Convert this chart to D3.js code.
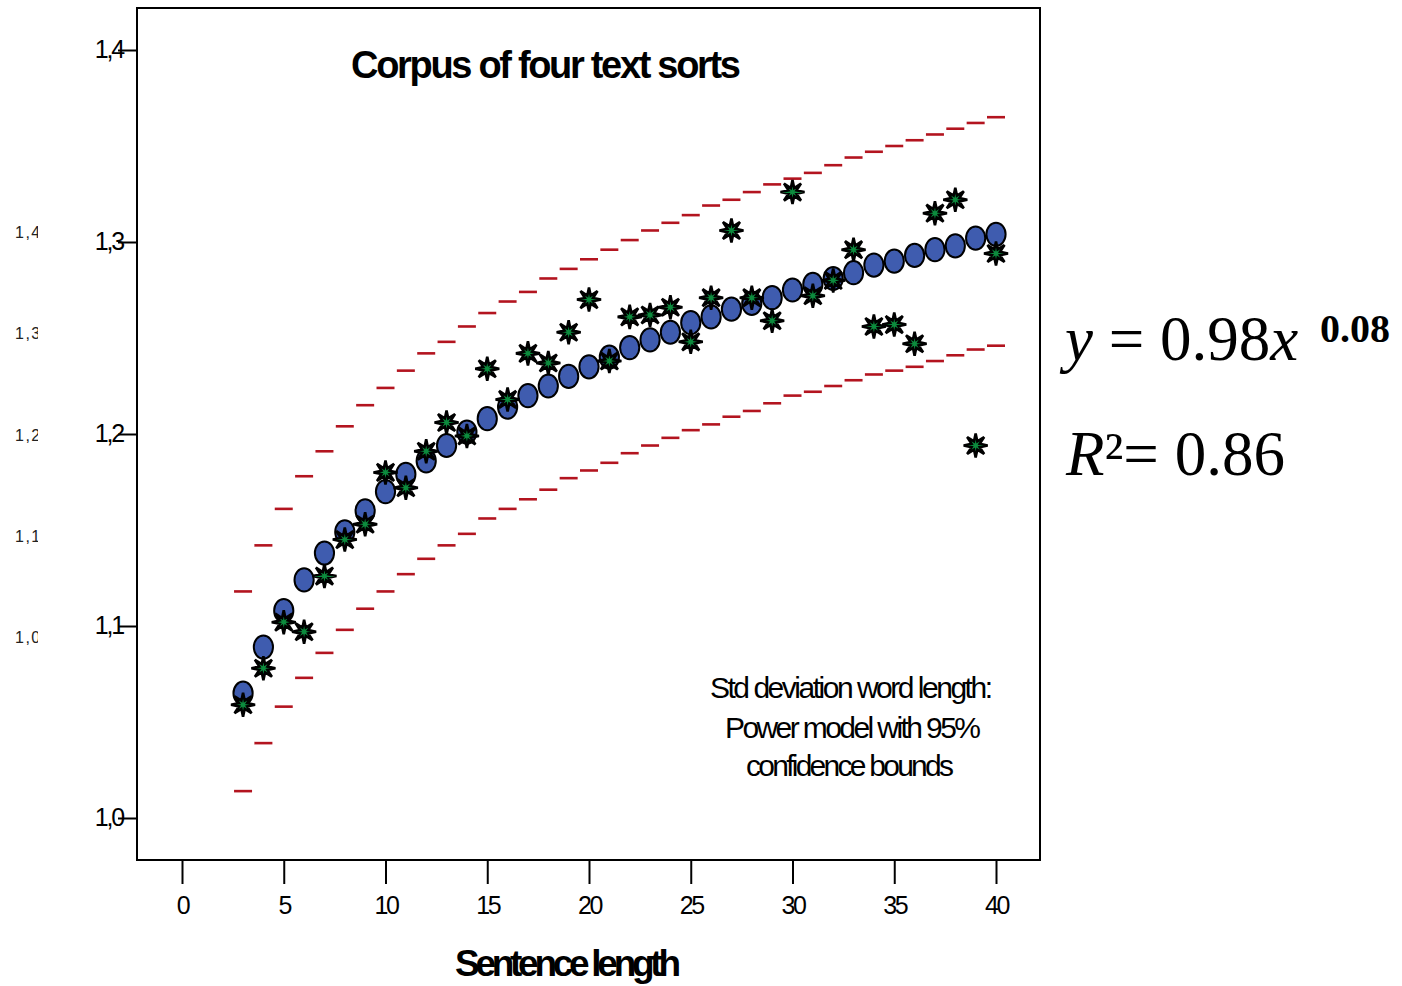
<!DOCTYPE html>
<html>
<head>
<meta charset="utf-8">
<script src="https://cdn.jsdelivr.net/npm/d3@7"></script>
<style>
  html, body { margin: 0; padding: 0; background: #fff; }
  svg { display: block; }
</style>
</head>
<body>
<svg id="chart" width="1402" height="986"></svg>
<script>
// Sentence length (words) on the x axis
const sentenceLength = [3, 4, 5, 6, 7, 8, 9, 10, 11, 12, 13, 14, 15, 16, 17, 18, 19, 20, 21,
  22, 23, 24, 25, 26, 27, 28, 29, 30, 31, 32, 33, 34, 35, 36, 37, 38, 39, 40];

// Observed std deviation of word length
const observed = [1.059, 1.078, 1.102, 1.097, 1.126, 1.145, 1.153, 1.180, 1.172, 1.191,
  1.206, 1.199, 1.234, 1.218, 1.242, 1.237, 1.253, 1.270, 1.238, 1.261,
  1.262, 1.266, 1.248, 1.271, 1.306, 1.271, 1.259, 1.326, 1.272, 1.280,
  1.296, 1.256, 1.257, 1.247, 1.315, 1.322, 1.194, 1.294];

// Power model fit
const fitted = [1.065, 1.089, 1.108, 1.124, 1.138, 1.149, 1.160, 1.170, 1.179, 1.186,
  1.194, 1.201, 1.208, 1.214, 1.220, 1.225, 1.230, 1.235, 1.240, 1.245,
  1.249, 1.253, 1.258, 1.261, 1.265, 1.268, 1.271, 1.275, 1.278, 1.281,
  1.284, 1.288, 1.290, 1.293, 1.296, 1.298, 1.302, 1.304];

// 95% confidence bounds
const upperBound = [1.118, 1.142, 1.161, 1.178, 1.191, 1.204, 1.215, 1.224, 1.233, 1.242,
  1.248, 1.256, 1.263, 1.269, 1.274, 1.281, 1.286, 1.291, 1.296, 1.301,
  1.306, 1.310, 1.314, 1.319, 1.322, 1.326, 1.330, 1.333, 1.336, 1.340,
  1.344, 1.347, 1.350, 1.353, 1.356, 1.359, 1.362, 1.365];
const lowerBound = [1.014, 1.039, 1.058, 1.073, 1.086, 1.098, 1.109, 1.118, 1.127, 1.135,
  1.142, 1.148, 1.156, 1.161, 1.166, 1.171, 1.177, 1.181, 1.185, 1.190,
  1.194, 1.198, 1.202, 1.205, 1.209, 1.212, 1.216, 1.220, 1.222, 1.225,
  1.228, 1.231, 1.233, 1.235, 1.238, 1.241, 1.244, 1.246];

// Axis ticks
const xTicks = [0, 5, 10, 15, 20, 25, 30, 35, 40];
const yTicks = [1.0, 1.1, 1.2, 1.3, 1.4];
// Faint left-hand scale labels
const ghostLabels = ["1,4", "1,3", "1,2", "1,1", "1,0"];

const svg = d3.select("#chart");
const frame = { left: 137, top: 8, right: 1040, bottom: 860 };

const x = d3.scaleLinear().domain([0, 40]).range([182, 996]);
const y = d3.scaleLinear().domain([1.0, 1.4]).range([818, 50]);
const commaFmt = v => d3.format(".1f")(v).replace(".", ",");

const sans = "'Liberation Sans', Arial, sans-serif";
const serif = "'Liberation Serif', 'Times New Roman', serif";

// Faint scale at the far left, clipped at its right edge
svg.append("clipPath").attr("id", "ghostClip")
  .append("rect").attr("x", 0).attr("y", 0).attr("width", 38).attr("height", 986);
const ghostY = d3.scalePoint().domain(ghostLabels).range([238, 643]);
svg.append("g").attr("clip-path", "url(#ghostClip)")
  .selectAll("text").data(ghostLabels).join("text")
  .attr("x", 15).attr("y", d => ghostY(d))
  .attr("font-family", sans).attr("font-size", 16)
  .attr("letter-spacing", 1.5)
  .attr("fill", "#222")
  .text(d => d);

// Y axis
const yAxis = svg.append("g")
  .attr("transform", `translate(${frame.left},0)`)
  .call(d3.axisLeft(y).tickValues(yTicks).tickFormat(commaFmt).tickSize(19).tickPadding(-5));
yAxis.select(".domain").remove();
yAxis.selectAll(".tick line").attr("stroke", "#000").attr("stroke-width", 2);
yAxis.selectAll(".tick text")
  .attr("font-family", sans).attr("font-size", 25).attr("letter-spacing", -2.2)
  .attr("fill", "#000").attr("dy", "0.3em");

// X axis
const xAxis = svg.append("g")
  .attr("transform", `translate(0,${frame.bottom})`)
  .call(d3.axisBottom(x).tickValues(xTicks).tickFormat(d3.format("d")).tickSize(24).tickPadding(12));
xAxis.select(".domain").remove();
xAxis.selectAll(".tick line").attr("stroke", "#000").attr("stroke-width", 2);
xAxis.selectAll(".tick text")
  .attr("font-family", sans).attr("font-size", 25).attr("letter-spacing", -2.5)
  .attr("fill", "#000");

// Plot frame
svg.append("rect")
  .attr("x", frame.left).attr("y", frame.top)
  .attr("width", frame.right - frame.left).attr("height", frame.bottom - frame.top)
  .attr("fill", "none").attr("stroke", "#000").attr("stroke-width", 2);

const plot = svg.append("g");

// Confidence bounds as short dashes
const boundColor = "#b3141f";
[upperBound, lowerBound].forEach(series => {
  plot.append("g").selectAll("line")
    .data(sentenceLength.map((s, i) => [s, series[i]]))
    .join("line")
    .attr("x1", d => x(d[0]) - 9).attr("x2", d => x(d[0]) + 9)
    .attr("y1", d => y(d[1])).attr("y2", d => y(d[1]))
    .attr("stroke", boundColor).attr("stroke-width", 2.6);
});

// Fitted values as blue ellipses
plot.append("g").selectAll("ellipse")
  .data(sentenceLength.map((s, i) => [s, fitted[i]]))
  .join("ellipse")
  .attr("cx", d => x(d[0])).attr("cy", d => y(d[1]))
  .attr("rx", 9.6).attr("ry", 11.6)
  .attr("fill", "#3f5caf").attr("stroke", "#000").attr("stroke-width", 2);

// Observed values as green starbursts
function starPath(rOut, rIn, n) {
  const pts = [];
  for (let k = 0; k < 2 * n; k++) {
    const r = k % 2 === 0 ? rOut : rIn;
    const a = -Math.PI / 2 + k * Math.PI / n;
    pts.push([r * Math.cos(a), r * Math.sin(a)]);
  }
  return "M" + pts.map(p => p[0].toFixed(2) + "," + p[1].toFixed(2)).join("L") + "Z";
}
const star = starPath(12, 4.4, 8);
plot.append("g").selectAll("path")
  .data(sentenceLength.map((s, i) => [s, observed[i]]))
  .join("path")
  .attr("transform", d => `translate(${x(d[0])},${y(d[1])})`)
  .attr("d", star)
  .attr("fill", "#0c8b3d").attr("stroke", "#000").attr("stroke-width", 2.6)
  .attr("stroke-linejoin", "miter");

// Title
svg.append("text")
  .attr("x", 351).attr("y", 78)
  .attr("font-family", sans).attr("font-weight", "bold").attr("font-size", 38)
  .attr("textLength", 390).attr("lengthAdjust", "spacing")
  .attr("fill", "#000")
  .text("Corpus of four text sorts");

// X axis title
svg.append("text")
  .attr("x", 455).attr("y", 976)
  .attr("font-family", sans).attr("font-weight", "bold").attr("font-size", 37)
  .attr("textLength", 226).attr("lengthAdjust", "spacing")
  .attr("fill", "#000")
  .text("Sentence length");

// Model note
const noteLines = [
  { t: "Std deviation word length:", x: 710, y: 698, w: 283 },
  { t: "Power model with 95%", x: 725, y: 738, w: 256 },
  { t: "confidence bounds", x: 746, y: 776, w: 208 }
];
svg.append("g").selectAll("text").data(noteLines).join("text")
  .attr("x", d => d.x).attr("y", d => d.y)
  .attr("font-family", sans).attr("font-size", 30)
  .attr("textLength", d => d.w).attr("lengthAdjust", "spacing")
  .attr("fill", "#000")
  .text(d => d.t);

// Fitted equation and R squared
const eq = svg.append("text")
  .attr("x", 1065).attr("y", 360)
  .attr("font-family", serif).attr("font-size", 63).attr("fill", "#000");
eq.append("tspan").attr("font-style", "italic").text("y");
eq.append("tspan").text(" = 0.98");
eq.append("tspan").attr("font-style", "italic").text("x");
eq.append("tspan").attr("x", 1320).attr("dy", -18)
  .attr("font-size", 40).attr("font-weight", "bold").text("0.08");

const r2 = svg.append("text")
  .attr("x", 1066).attr("y", 475)
  .attr("font-family", serif).attr("font-size", 63).attr("fill", "#000");
r2.append("tspan").attr("font-style", "italic").text("R");
r2.append("tspan").text("²= 0.86");
</script>
</body>
</html>
